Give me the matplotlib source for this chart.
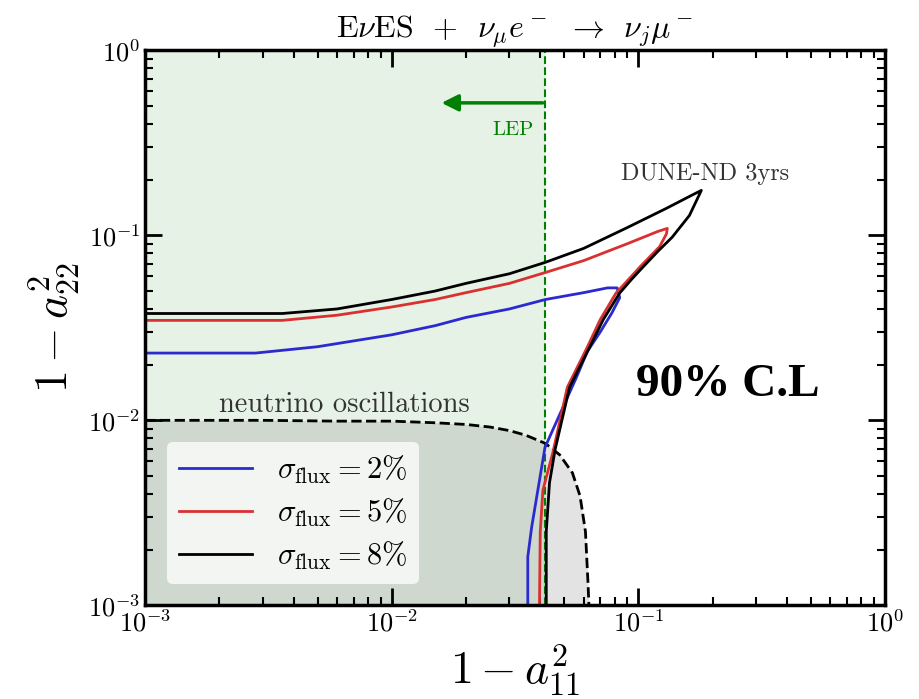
import math
import matplotlib
matplotlib.use("Agg")
import matplotlib.pyplot as plt
from matplotlib.ticker import FuncFormatter

plt.rcParams['mathtext.fontset'] = 'cm'
plt.rcParams['font.family'] = 'serif'
plt.rcParams['font.serif'] = ['cmr10', 'DejaVu Serif']
plt.rcParams['axes.unicode_minus'] = False

# contours: upper branch from the left edge to the tip,
# then the lower branch back down to the bottom edge
black_x = [1e-3, 2e-3, 3.6e-3, 6e-3, 1e-2, 1.5e-2, 2e-2, 3e-2, 0.042, 0.06, 0.09, 0.13, 0.165, 0.18,
           0.161, 0.137, 0.12, 0.106, 0.094, 0.0838, 0.072, 0.0634, 0.0526, 0.046, 0.0436, 0.0423, 0.0423]
black_y = [0.0378, 0.0378, 0.0378, 0.040, 0.045, 0.050, 0.055, 0.062, 0.0715, 0.085, 0.110, 0.14, 0.165, 0.175,
           0.128, 0.0976, 0.082, 0.0689, 0.058, 0.0486, 0.035, 0.0248, 0.0151, 0.0070, 0.0046, 0.0025, 0.001]
red_x = [1e-3, 2e-3, 3.6e-3, 6e-3, 1e-2, 1.5e-2, 2e-2, 3e-2, 0.042, 0.06, 0.09, 0.12, 0.131, 0.130,
         0.122, 0.102, 0.081, 0.07, 0.062, 0.0515, 0.045, 0.041, 0.040, 0.0397]
red_y = [0.0347, 0.0347, 0.0347, 0.037, 0.041, 0.045, 0.049, 0.055, 0.063, 0.073, 0.090, 0.105, 0.109, 0.102,
         0.087, 0.068, 0.0486, 0.035, 0.0248, 0.0151, 0.0067, 0.0042, 0.0025, 0.001]
blue_x = [1e-3, 2.8e-3, 5e-3, 1e-2, 1.5e-2, 2e-2, 3e-2, 0.042, 0.06, 0.075, 0.082, 0.084,
          0.078, 0.070, 0.062, 0.056, 0.051, 0.046, 0.0418, 0.0369, 0.0356, 0.0356]
blue_y = [0.0231, 0.0231, 0.025, 0.029, 0.0325, 0.036, 0.040, 0.045, 0.049, 0.052, 0.052, 0.046,
          0.038, 0.030, 0.0235, 0.017, 0.0129, 0.0095, 0.00714, 0.00264, 0.00183, 0.001]

# neutrino oscillation bound
osc_x = [1e-3, 3e-3, 6e-3, 1e-2, 1.5e-2, 2e-2, 2.5e-2, 3e-2, 3.5e-2, 4.2e-2, 4.8e-2,
         5.4e-2, 5.8e-2, 6.1e-2, 6.25e-2, 6.3e-2]
osc_y = [0.0100, 0.0100, 0.0099, 0.0099, 0.0097, 0.0095, 0.0092, 0.0088, 0.0083, 0.0075, 0.0065,
         0.0052, 0.0039, 0.0025, 0.0013, 0.001]

lep = 0.042
labels = [r'$\sigma_{\rm flux} = 2\%$', r'$\sigma_{\rm flux} = 5\%$', r'$\sigma_{\rm flux} = 8\%$']

fig = plt.figure(figsize=(9.19, 6.99), dpi=100)
ax = fig.add_axes([0.158, 0.134, 0.805, 0.794])
ax.set_xscale('log')
ax.set_yscale('log')
ax.set_xlim(1e-3, 1)
ax.set_ylim(1e-3, 1)

ax.fill_betweenx([1e-3, 1], 1e-3, lep, color='green', alpha=0.1, lw=0)
ax.axvline(lep, color='green', ls='--', lw=1.5)
ax.fill_between(osc_x, 1e-3, osc_y, color='gray', alpha=0.22, lw=0)
ax.plot(osc_x, osc_y, 'k--', lw=2)

ax.plot(blue_x, blue_y, color='#2a2ad0', lw=2, label=labels[0])
ax.plot(red_x, red_y, color='#d93030', lw=2, label=labels[1])
ax.plot(black_x, black_y, color='black', lw=2, label=labels[2])

ax.annotate('', xy=(0.0155, 0.52), xytext=(lep, 0.52),
            arrowprops=dict(arrowstyle='-|>', color='green', lw=2.5, mutation_scale=25))
ax.text(0.031, 0.37, 'LEP', color='green', fontsize=15, ha='center', va='center')
ax.text(0.187, 0.215, 'DUNE-ND 3yrs', fontsize=17.5, ha='center', va='center', color='#333333')
ax.text(0.0064, 0.0122, 'neutrino oscillations', fontsize=20.5, ha='center', va='center', color='#333333')
ax.text(0.23, 0.0155, '90% C.L', fontsize=34, fontweight='bold', ha='center', va='center',
        family='Liberation Serif')

ax.legend(loc='lower left', fontsize=22, frameon=True, framealpha=0.75, edgecolor='none',
          facecolor='white', handlelength=2.4, labelspacing=0.35, borderaxespad=0.7)

ax.set_title(r'$\mathrm{E}\nu\mathrm{ES}\enspace+\enspace\nu_\mu e^-\enspace\to\enspace\nu_j\mu^-$',
             fontsize=23, pad=5)
ax.set_xlabel(r'$1 - a_{11}^2$', fontsize=33)
ax.set_ylabel(r'$1 - a_{22}^2$', fontsize=33)
fmt = FuncFormatter(lambda v, p: r'$10^{%d}$' % round(math.log10(v)))
ax.xaxis.set_major_formatter(fmt)
ax.yaxis.set_major_formatter(fmt)
ax.tick_params(which='both', direction='in', top=True, right=True, labelsize=19)
ax.tick_params(which='major', length=12, width=2)
ax.tick_params(which='minor', length=6, width=1.5)
for s in ax.spines.values():
    s.set_linewidth(2.5)

fig.savefig('out.png', dpi=100)
